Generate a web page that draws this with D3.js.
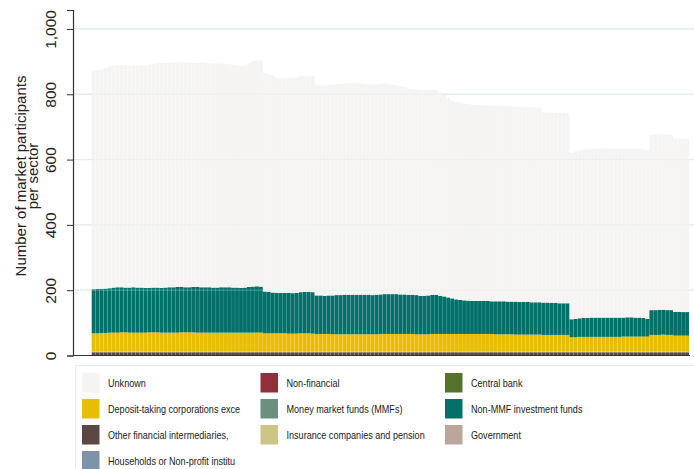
<!DOCTYPE html>
<html>
<head>
<meta charset="utf-8">
<script src="https://cdn.jsdelivr.net/npm/d3@7"></script>
<style>
body { margin: 0; background: #fff; }
text { font-family: "Liberation Sans", Arial, sans-serif; }
</style>
</head>
<body>
<div class="chart"></div>
<script>
// sectors, in legend order (row by row)
var sectors = ["Unknown", "Non-financial", "Central bank",
  "Deposit-taking corporations exce", "Money market funds (MMFs)", "Non-MMF investment funds",
  "Other financial intermediaries,", "Insurance companies and pension", "Government",
  "Households or Non-profit institu"];
var sectorColors = ["#f5f4f2", "#8f3139", "#56732e",
  "#e9bd06", "#6e8f80", "#04706a",
  "#5b4743", "#cdc585", "#bca69a",
  "#7c93aa"];

var yTicks = [0, 200, 400, 600, 800, 1000];

// number of participants per sector, one value per bar
var unknown = [
  669,670,672,675,678,680,680,681,682,681,
  679,680,681,683,684,685,687,689,688,688,
  688,688,688,688,688,686,686,688,687,686,
  687,686,685,684,683,682,680,680,680,685,
  691,692,692,669,667,665,658,657,657,658,
  659,659,662,662,662,661,644,643,643,644,
  645,645,646,646,647,648,648,647,646,645,
  645,644,644,645,644,642,640,638,635,632,
  629,630,631,630,629,628,626,623,617,610,
  605,605,605,603,602,601,600,600,599,599,
  599,599,599,598,598,597,597,597,597,596,
  597,596,595,583,582,583,582,583,582,582,
  510,513,515,516,517,517,518,518,519,518,
  518,517,517,517,515,516,517,516,517,518,
  536,537,537,537,537,536,532,531,532,531];

var nonMmf = [
  135,136,135,136,136,138,139,138,137,138,
  139,138,138,137,136,137,137,137,138,139,
  139,140,139,138,138,139,140,139,139,139,
  138,138,139,139,139,138,138,137,138,140,
  141,142,141,128,127,125,124,124,124,125,
  124,125,126,127,127,127,118,118,117,118,
  119,120,120,121,121,121,121,121,121,121,
  120,121,121,122,122,122,122,121,121,120,
  120,120,118,118,119,120,120,117,115,112,
  109,106,104,103,102,101,101,101,101,101,
  100,101,101,101,100,100,101,100,100,100,
  99,99,99,99,99,98,98,97,97,97,
  55,56,57,58,58,59,59,59,59,59,
  59,59,59,58,59,59,58,58,57,54,
  76,76,77,76,76,76,73,73,72,72];

var deposit = [
  56,56,57,57,58,58,58,59,59,58,
  58,58,58,58,59,59,59,58,58,58,
  58,58,59,59,59,59,58,58,58,58,
  58,58,58,58,58,58,58,58,58,58,
  58,58,58,56,56,56,56,56,56,55,
  55,55,56,56,56,55,54,54,54,54,
  53,53,53,53,53,53,53,53,53,53,
  53,53,54,54,54,54,54,54,54,54,
  54,53,53,53,53,54,54,54,54,54,
  54,54,54,54,54,54,54,54,54,54,
  54,53,53,53,53,53,52,52,52,52,
  52,52,52,51,51,51,51,51,51,51,
  44,44,45,45,45,45,45,45,45,45,
  45,45,45,46,46,46,46,46,46,46,
  51,51,51,52,51,51,49,49,49,49];

var otherFin = [
  10,10,10,10,10,10,10,10,10,10,
  10,10,10,10,10,10,10,10,10,10,
  10,10,10,10,10,10,10,10,10,10,
  10,10,10,10,10,10,10,10,10,10,
  10,10,10,10,10,10,10,10,10,10,
  10,10,10,10,10,10,10,10,10,10,
  10,10,10,10,10,10,10,10,10,10,
  10,10,10,10,10,10,10,10,10,10,
  10,10,10,10,10,10,10,10,10,10,
  10,10,10,10,10,10,10,10,10,10,
  10,10,10,10,10,10,10,10,10,10,
  10,10,10,10,10,10,10,10,10,10,
  10,10,10,10,10,10,10,10,10,10,
  10,10,10,10,10,10,10,10,10,10,
  10,10,10,10,10,10,10,10,10,10];

var insurance = [
  2,2,2,2,2,2,2,2,2,2,
  2,2,2,2,2,2,2,2,2,2,
  2,2,2,2,2,2,2,2,2,2,
  2,2,2,2,2,2,2,2,2,2,
  2,2,2,2,2,2,2,2,2,2,
  2,2,2,2,2,2,2,2,2,2,
  2,2,2,2,2,2,2,2,2,2,
  2,2,2,2,2,2,2,2,2,2,
  2,2,2,2,2,2,2,2,2,2,
  2,2,2,2,2,2,2,2,2,2,
  2,2,2,2,2,2,2,2,2,2,
  2,2,2,2,2,2,2,2,2,2,
  2,2,2,2,2,2,2,2,2,2,
  2,2,2,2,2,2,2,2,2,2,
  2,2,2,2,2,2,2,2,2,2];

var width = 694;
var height = 469;

var svg = d3.select(".chart")
    .append("svg")
    .attr("width", width)
    .attr("height", height);

// build table for the stack (bottom to top)
var keys = ["otherFin", "insurance", "deposit", "nonMmf", "unknown"];
var keyColor = {
    otherFin: sectorColors[6],
    insurance: sectorColors[7],
    deposit: sectorColors[3],
    nonMmf: sectorColors[5],
    unknown: sectorColors[0]
};
var rows = unknown.map(function (d, i) {
    return {
        i: i,
        otherFin: otherFin[i],
        insurance: insurance[i],
        deposit: deposit[i],
        nonMmf: nonMmf[i],
        unknown: unknown[i]
    };
});
var stacked = d3.stack().keys(keys)(rows);

var x = d3.scaleBand()
    .domain(rows.map(function (d) { return d.i; }))
    .range([91.7, 689])
    .paddingInner(0.035);

var y = d3.scaleLinear()
    .domain([0, 1058])
    .range([355.5, 10]);

// gridlines
svg.append("g")
    .selectAll("line")
    .data(yTicks.slice(1))
    .enter()
    .append("line")
    .attr("x1", 73)
    .attr("x2", width)
    .attr("y1", function (d) { return y(d); })
    .attr("y2", function (d) { return y(d); })
    .attr("stroke", "#e3edef")
    .attr("stroke-width", 1.3);

// bars
svg.append("g")
    .selectAll("g")
    .data(stacked)
    .enter()
    .append("g")
    .attr("fill", function (d) { return keyColor[d.key]; })
    .selectAll("rect")
    .data(function (d) { return d; })
    .enter()
    .append("rect")
    .attr("x", function (d) { return x(d.data.i); })
    .attr("width", x.bandwidth())
    .attr("y", function (d) { return y(d[1]); })
    .attr("height", function (d) { return y(d[0]) - y(d[1]); });

// faint gridlines over the bars
svg.append("g")
    .selectAll("line")
    .data(yTicks.slice(1))
    .enter()
    .append("line")
    .attr("x1", 73)
    .attr("x2", width)
    .attr("y1", function (d) { return y(d); })
    .attr("y2", function (d) { return y(d); })
    .attr("stroke", "#dfe9ec")
    .attr("stroke-opacity", 0.35)
    .attr("stroke-width", 1);

// x baseline
svg.append("line")
    .attr("x1", 73).attr("x2", 690)
    .attr("y1", y(0)).attr("y2", y(0))
    .attr("stroke", "#333").attr("stroke-width", 1.2);

// y axis
var yAxis = svg.append("g")
    .attr("transform", "translate(73,0)")
    .call(d3.axisLeft(y).tickValues(yTicks).tickSize(6).tickFormat(d3.format(",")));
yAxis.select(".domain").attr("stroke", "#333").attr("stroke-width", 1.2);
yAxis.selectAll(".tick line").attr("stroke", "#333");
yAxis.selectAll(".tick text")
    .attr("transform", "rotate(-90)")
    .attr("x", 0)
    .attr("y", -22)
    .attr("dy", "0.35em")
    .attr("text-anchor", "middle")
    .style("font-size", "15.5px")
    .attr("fill", "#222");

// y title
var title = svg.append("text")
    .attr("transform", "translate(26,176) rotate(-90)")
    .attr("text-anchor", "middle")
    .style("font-size", "15px")
    .attr("fill", "#222");
title.append("tspan").attr("x", 0).attr("dy", 0).text("Number of market participants");
title.append("tspan").attr("x", 0).attr("dy", "0.8em").text("per sector");

// legend
var leg = svg.append("g").attr("class", "leg");
leg.append("rect")
    .attr("x", 75.5).attr("y", 365.5)
    .attr("width", 640).attr("height", 120)
    .attr("fill", "#fff")
    .attr("stroke", "#e3edef");

var colX = [82, 260.5, 445];
var items = leg.selectAll("g.item")
    .data(sectors)
    .enter()
    .append("g")
    .attr("class", "item")
    .attr("transform", function (d, i) {
        return "translate(" + colX[i % 3] + "," + (373 + Math.floor(i / 3) * 26) + ")";
    });
items.append("rect")
    .attr("width", 17.5)
    .attr("height", 19.5)
    .attr("fill", function (d, i) { return sectorColors[i]; });
// condensed look of the original legend font
items.append("text")
    .attr("transform", "translate(26,10) scale(0.77,1)")
    .attr("dy", "0.35em")
    .style("font-size", "11.8px")
    .attr("fill", "#222")
    .text(function (d) { return d; });
</script>
</body>
</html>
